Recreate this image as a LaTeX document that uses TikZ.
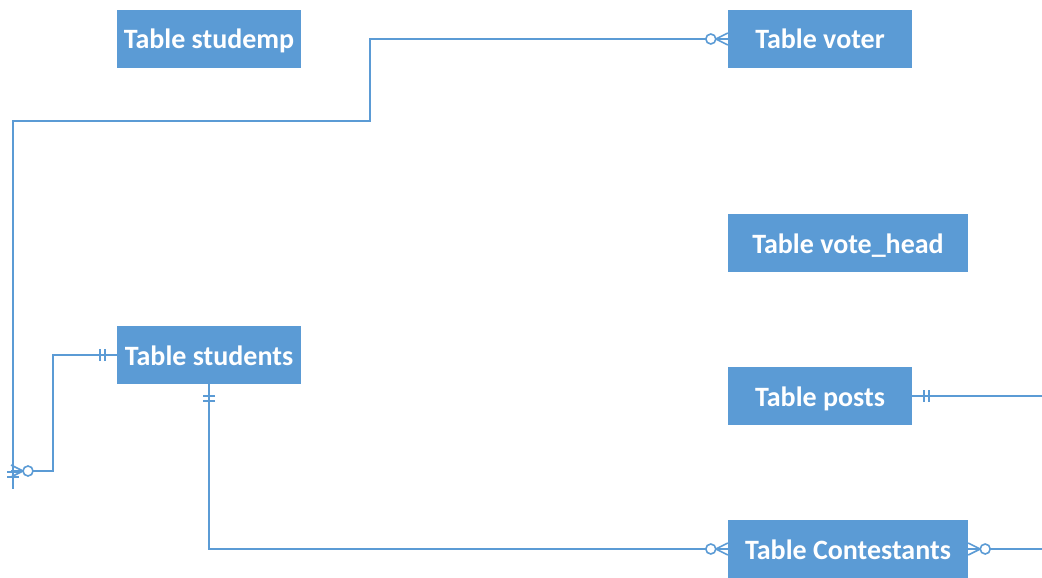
\documentclass[tikz,border=0pt]{standalone}
\usepackage{fontspec}
\setmainfont{Carlito}
\usetikzlibrary{calc}
\definecolor{entblue}{HTML}{5B9BD5}
\tikzset{
  x=1pt, y=-1pt,
  entity/.style={rectangle, fill=entblue, draw=none, text=white,
    font=\bfseries\fontsize{28}{33}\selectfont,
    text height=20pt, text depth=0pt,
    minimum height=58pt, inner sep=0pt},
  narrow/.style={minimum width=184pt},
  wide/.style={minimum width=240pt},
  rel/.style={draw=entblue, line width=1.6pt},
  % zero-or-many end: crow's foot at the entity edge plus an open circle
  zmany/.pic={
    \draw[rel] (0,-6) -- (12,0) -- (0,6);
    \draw[rel, fill=white] (17,0) circle[radius=5pt];
  },
  % exactly-one end: two bars across the line
  onlyone/.pic={
    \draw[rel] (12,-6) -- (12,6) (17,-6) -- (17,6);
  },
}
\begin{document}
\begin{tikzpicture}
\useasboundingbox (0,0) rectangle (1042,578);

% entities
\node[entity, narrow] (studemp)     at (209,39)  {Table studemp};
\node[entity, narrow] (voter)       at (820,39)  {Table voter};
\node[entity, wide]   (votehead)    at (848,243) {Table vote\_head};
\node[entity, narrow] (students)    at (209,355) {Table students};
\node[entity, narrow] (posts)       at (820,396) {Table posts};
\node[entity, wide]   (contestants) at (848,549) {Table Contestants};

% free ends of the relationship lines
\coordinate (hub)     at (13,489);
\coordinate (hubside) at (11,471);
\coordinate (postsout) at (1042,396);
\coordinate (contout)  at (1042,549);

% voter -- hub
\draw[rel] (voter.west) -| (370,121) -| (hub);
\pic[rotate=180] at (voter.west) {zmany};
\pic[rotate=90] at (hub) {onlyone};

% students -- hub
\draw[rel] (students.west) -| (53,471) -- (hubside);
\pic[rotate=180] at (students.west) {onlyone};
\pic at (hubside) {zmany};

% students -- contestants
\draw[rel] (students.south) |- (contestants.west);
\pic[rotate=-90] at (students.south) {onlyone};
\pic[rotate=180] at (contestants.west) {zmany};

% contestants and posts toward the right edge
\draw[rel] (contestants.east) -- (contout);
\pic at (contestants.east) {zmany};
\draw[rel] (posts.east) -- (postsout);
\pic at (posts.east) {onlyone};
\end{tikzpicture}
\end{document}
